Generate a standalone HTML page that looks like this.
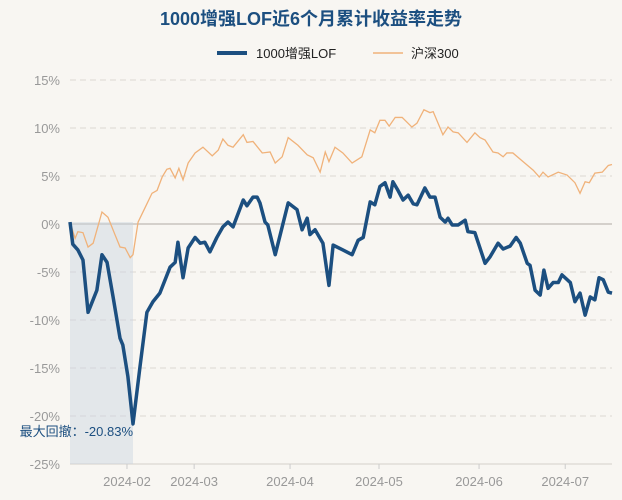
<!DOCTYPE html>
<html><head><meta charset="utf-8"><style>
body{margin:0;background:#f8f6f2;}
svg{display:block;font-family:"Liberation Sans","Noto Sans CJK SC",sans-serif;}
</style></head><body>
<svg id="chart" width="622" height="500" viewBox="0 0 622 500">
<rect width="622" height="500" fill="#f8f6f2"/>
<text x="311" y="25" text-anchor="middle" font-size="18" font-weight="bold" fill="#1c4f80">1000增强LOF近6个月累计收益率走势</text>
<g>
<g><line x1="217" y1="53" x2="247" y2="53" stroke="#1c4f80" stroke-width="4"/><text x="256" y="58" font-size="13" fill="#222">1000增强LOF</text></g>
<g><line x1="373" y1="53" x2="403" y2="53" stroke="#f0b27a" stroke-width="1.5"/><text x="411" y="58" font-size="13" fill="#222">沪深300</text></g>
</g>
<g id="grid"></g><g id="series"></g>
</svg>
<script>
const yTicks=[15,10,5,0,-5,-10,-15,-20,-25];
const yTickLabels=["15%","10%","5%","0%","-5%","-10%","-15%","-20%","-25%"];
const monthIdx=[12.3,26.8,47.5,66.7,88.3,106.9];
const monthLabels=["2024-02","2024-03","2024-04","2024-05","2024-06","2024-07"];
const fundIdx=[0,0.6,1.7,2.8,3.9,5.8,6.9,8.0,9.3,10.8,11.4,12.5,13.6,15.1,16.6,17.9,19.4,21.6,22.7,23.3,24.4,25.5,27.0,28.1,29.1,30.2,31.7,33.0,34.1,35.2,37.4,38.2,39.5,40.4,41.0,42.1,42.7,44.3,47.1,49.0,50.1,51.2,51.8,52.9,54.6,55.9,56.8,58.9,60.9,62.2,63.3,64.8,65.8,66.9,68.0,69.1,69.7,70.8,71.9,73.0,74.1,74.9,76.6,77.7,78.8,79.9,81.0,81.6,82.5,83.8,85.3,85.9,87.4,89.6,90.7,92.4,93.5,95.0,96.3,97.2,98.7,99.3,100.4,101.5,102.3,103.2,104.3,105.4,106.2,108.0,109.0,110.1,111.2,112.3,113.3,114.2,115.1,116.2,117.0];
const fundVals=[0.2,-2.1,-2.7,-3.75,-9.2,-6.9,-3.2,-4.0,-7.6,-11.9,-12.6,-15.9,-20.83,-14.9,-9.2,-8.1,-7.2,-4.5,-4.0,-1.9,-5.6,-2.5,-1.4,-2.0,-1.9,-2.9,-1.4,-0.3,0.2,-0.3,2.5,1.9,2.8,2.8,2.2,0.2,-0.1,-3.2,2.2,1.5,-0.6,0.6,-1.1,-0.6,-2.0,-6.4,-2.2,-2.7,-3.2,-1.7,-1.4,2.3,2.0,3.9,4.3,2.8,4.4,3.5,2.5,3.0,2.1,2.0,3.75,2.8,2.8,0.7,0.2,0.6,-0.1,-0.1,0.4,-0.8,-0.9,-4.1,-3.4,-2.0,-2.6,-2.3,-1.4,-2.0,-4.1,-4.3,-6.9,-7.4,-4.8,-6.7,-6.1,-6.1,-5.3,-6.1,-8.1,-7.2,-9.5,-7.6,-7.9,-5.6,-5.8,-7.1,-7.2];
const hsIdx=[0,1.1,1.7,2.8,3.9,5.0,6.9,8.2,9.7,10.8,11.9,13.0,13.6,14.7,16.2,17.7,18.8,19.9,20.9,21.6,22.7,23.5,24.4,25.5,27.0,28.7,30.7,32.0,33.0,34.1,35.2,37.4,38.2,39.5,41.5,43.2,44.3,45.8,47.1,49.2,51.2,52.5,54.0,55.1,55.9,57.2,58.9,60.9,63.0,64.8,65.8,66.9,68.0,68.9,70.2,71.7,73.8,74.9,76.4,77.7,78.4,80.5,81.6,82.7,83.8,85.7,87.4,88.5,89.6,91.3,92.4,93.5,94.3,95.6,97.8,100.0,101.3,102.1,103.2,105.4,107.3,109.0,110.1,111.2,112.1,113.3,114.9,116.2,117.0];
const hsVals=[0.2,-1.5,-0.8,-0.9,-2.4,-2.0,1.25,0.7,-1.1,-2.4,-2.5,-3.5,-3.2,0.2,1.7,3.2,3.5,4.9,5.7,5.8,4.8,5.8,4.6,6.35,7.4,8.0,7.1,7.7,8.85,8.2,8.0,9.3,8.5,8.6,7.4,7.5,6.35,7.0,9.0,8.2,7.2,6.9,5.4,7.5,6.5,8.0,7.4,6.35,7.0,9.8,9.5,10.8,10.8,10.2,11.1,11.1,10.1,10.5,11.9,11.6,11.7,9.3,10.1,9.6,9.5,8.5,9.5,9.0,8.75,7.5,7.4,7.0,7.4,7.4,6.5,5.6,4.9,5.4,4.9,5.4,5.1,4.3,3.2,4.4,4.3,5.3,5.4,6.1,6.2];
const maxDD=-20.83, ddStartIdx=0, ddEndIdx=13.6;
const X0=70,X1=612,Y0=80,Y1=464,NMAX=117;
const x=i=>X0+i*(X1-X0)/NMAX;
const y=v=>Y0+(15-v)*(Y1-Y0)/40;
const NS="http://www.w3.org/2000/svg";
function mk(t,a,p){const e=document.createElementNS(NS,t);for(const k in a)e.setAttribute(k,a[k]);p.appendChild(e);return e;}
const g=document.getElementById('grid'),s=document.getElementById('series');
yTicks.forEach((v,k)=>{
 let l;
 if(v===0){l=mk('line',{x1:X0,x2:X1,y1:y(v),y2:y(v),stroke:'#d4d0cb','stroke-width':2},g);}
 else if(v===-25){l=mk('line',{x1:X0,x2:X1,y1:y(v),y2:y(v),stroke:'#d4d0cb','stroke-width':1},g);}
 else{l=mk('line',{x1:X0,x2:X1,y1:y(v),y2:y(v),stroke:'#dcd8d3','stroke-dasharray':'6,4'},g);}
 
 
 const t=mk('text',{x:60,y:y(v)+5,'text-anchor':'end','font-size':13,fill:'#999'},g);
 t.textContent=yTickLabels[k];
 
 
});
monthIdx.forEach((m,k)=>{
 const tk=mk('line',{x1:x(m),x2:x(m),y1:Y1,y2:Y1+5,stroke:'#ccc'},g);
 
 
 const t=mk('text',{x:x(m),y:486,'text-anchor':'middle','font-size':13,fill:'#999'},g);
 t.textContent=monthLabels[k];
 
 
});
const dd=mk('rect',{x:x(ddStartIdx),y:y(0.2),width:x(ddEndIdx)-x(ddStartIdx),height:Y1-y(0.2),fill:'#c9d5e0',opacity:0.45},s);


const hs=mk('polyline',{points:hsIdx.map((i,k)=>x(i)+','+y(hsVals[k])).join(' '),fill:'none',stroke:'#f0b27a','stroke-width':1.3},s);


const fd=mk('polyline',{points:fundIdx.map((i,k)=>x(i)+','+y(fundVals[k])).join(' '),fill:'none',stroke:'#1c4f80','stroke-width':3.5,'stroke-linejoin':'round'},s);


const lb=mk('text',{x:x(ddEndIdx),y:y(maxDD)+12,'text-anchor':'end','font-size':13,fill:'#1c4f80'},s);
lb.textContent='最大回撤：'+maxDD.toFixed(2)+'%';


</script>
</body></html>
